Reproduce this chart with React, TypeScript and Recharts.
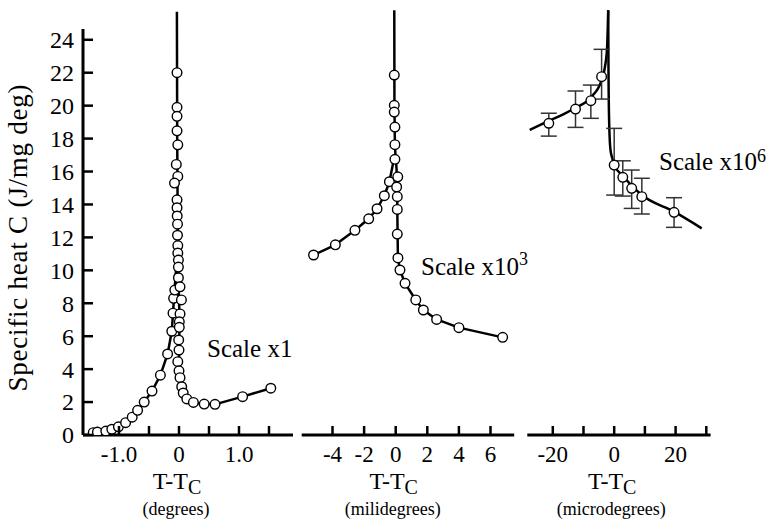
import { ComposedChart, Line, Scatter, XAxis, YAxis, ErrorBar, ReferenceLine } from "recharts";

const FONT = '"Liberation Serif", "DejaVu Serif", "Times New Roman", serif';
const TXT = { fontFamily: FONT };

// shared y scale (specific heat, J/mg deg)
const Y_DOMAIN: [number, number] = [0, 25.93];
const Y_TICKS = [0, 2, 4, 6, 8, 10, 12, 14, 16, 18, 20, 22, 24];
const Y_AXIS_TOP = 24.65;

// ---- panel 1: degrees ----
const degTicks = [-1.0, -0.5, 0, 0.5, 1.0, 1.5];
const degLabeled = [-1.0, 0, 1.0];
const degBelowPts = [
  [-1.43, 0.14], [-1.36, 0.18], [-1.22, 0.24], [-1.12, 0.35], [-1.01, 0.5], [-0.89, 0.75],
  [-0.78, 1.08], [-0.69, 1.5], [-0.58, 2.0], [-0.45, 2.67], [-0.31, 3.63], [-0.19, 4.92],
  [-0.12, 6.3], [-0.1, 7.4], [-0.09, 8.3], [-0.07, 8.8],
];
const degCritPts = [
  [-0.033, 22.0], [-0.033, 19.9], [-0.033, 19.35], [-0.033, 18.47], [-0.02, 17.62], [-0.045, 16.43],
  [-0.02, 15.7], [-0.075, 15.3], [-0.033, 14.28], [-0.033, 13.8], [-0.03, 13.3], [-0.025, 12.8],
  [-0.025, 12.13], [-0.02, 11.5], [-0.02, 11.05], [-0.01, 10.62], [-0.01, 10.2], [-0.01, 9.55],
  [0.017, 9.0], [0.04, 8.2], [0.017, 7.35], [0.005, 6.87], [0.005, 6.54], [-0.005, 5.77],
  [0, 5.16], [-0.02, 4.45], [0, 3.9], [0.017, 3.48], [0.045, 2.93], [0.07, 2.55],
];
const degAbovePts = [[0.13, 2.19], [0.24, 1.98], [0.42, 1.88], [0.6, 1.86], [1.06, 2.33], [1.53, 2.84]];
const degCurveBelow = [
  [-1.43, 0.14], [-1.22, 0.24], [-1.01, 0.5], [-0.78, 1.08], [-0.58, 2.0], [-0.45, 2.67],
  [-0.31, 3.63], [-0.19, 4.92], [-0.12, 6.3], [-0.08, 8.5], [-0.04, 10.5],
];
const degCurveAbove = [
  [-0.035, 25.7], [-0.03, 18], [-0.02, 12], [-0.01, 9.5], [0.01, 7], [0, 5], [0.01, 3.6],
  [0.045, 2.93], [0.07, 2.55], [0.13, 2.19], [0.24, 1.98], [0.42, 1.88], [0.6, 1.86],
  [1.06, 2.33], [1.53, 2.84],
];

// ---- panel 2: millidegrees ----
const milliTicks = [-4, -2, 0, 2, 4, 6];
const milliBelowPts = [
  [-5.2, 10.93], [-3.82, 11.55], [-2.58, 12.43], [-1.71, 13.13], [-1.18, 13.74], [-0.72, 14.53], [-0.4, 15.38],
];
const milliCritPts = [
  [-0.09, 21.86], [-0.09, 20.02], [-0.09, 19.61], [-0.05, 18.7], [-0.05, 17.63], [-0.05, 16.74],
  [0.13, 15.68], [0.06, 15.06], [0.1, 14.47], [0.1, 13.7], [0.1, 12.2], [0.14, 10.75],
];
const milliAbovePts = [
  [0.27, 10.02], [0.59, 9.21], [1.27, 8.2], [1.75, 7.59], [2.59, 7.02], [4.0, 6.52], [6.77, 5.93],
];
const milliCurveBelow = [
  [-5.2, 10.93], [-3.82, 11.55], [-2.58, 12.43], [-1.71, 13.13], [-1.18, 13.74], [-0.72, 14.53],
  [-0.4, 15.38], [-0.1, 16.8],
];
const milliCurveAbove = [
  [-0.09, 25.8], [-0.08, 20], [-0.05, 17.5], [0.05, 16.2], [0.1, 15], [0.1, 13.7], [0.12, 12.2],
  [0.14, 10.75], [0.27, 10.02], [0.59, 9.21], [1.27, 8.2], [1.75, 7.59], [2.59, 7.02],
  [4.0, 6.52], [6.77, 5.93],
];

// ---- panel 3: microdegrees (x, y, error below, error above) ----
const microTicks = [-20, -10, 0, 10, 20, 30];
const microLabeled = [-20, 0, 20];
const microPts = [
  [-21.3, 18.93, 0.78, 0.61], [-12.6, 19.79, 1.11, 1.1], [-7.6, 20.3, 1.07, 0.95],
  [-4.1, 21.76, 1.36, 1.66], [0.0, 16.39, 1.82, 2.23], [2.8, 15.65, 1.14, 1.0],
  [5.7, 14.98, 1.22, 1.11], [9.0, 14.47, 1.05, 1.12], [19.5, 13.52, 0.91, 0.89],
];
const microCurveBelow = [
  [-27.5, 18.52], [-21.3, 19.07], [-16.6, 19.47], [-12.6, 19.87], [-7.6, 20.5], [-4.1, 21.55],
  [-3.0, 22.36], [-2.3, 23.58], [-1.95, 25.8],
];
const microCurveAbove = [
  [-1.95, 25.8], [-1.85, 22], [-1.6, 18.7], [-1.2, 17.3], [-0.6, 16.8], [0, 16.39], [2.8, 15.74],
  [5.7, 15.14], [9.0, 14.57], [19.5, 13.56], [28.5, 12.55],
];

const toPts = (a: number[][]) => a.map(([x, y]) => ({ x, y }));

const xTick = (labeled: number[] | null, fmt: (v: number) => string) => (p: any) => {
  const v = p.payload.value;
  const show = labeled ? labeled.some((l) => Math.abs(l - v) < 1e-9) : true;
  return (
    <g>
      <line x1={p.x} x2={p.x} y1={p.y} y2={p.y - 9} stroke="#000" strokeWidth={2.5} />
      {show && (
        <text x={p.x} y={p.y + 27} textAnchor="middle" style={TXT} fontSize={23} fill="#000">
          {fmt(v)}
        </text>
      )}
    </g>
  );
};

const yTick = (p: any) => (
  <g>
    <line x1={p.x} x2={p.x + 10} y1={p.y} y2={p.y} stroke="#000" strokeWidth={2.5} />
    <text x={p.x - 9} y={p.y} dy="0.35em" textAnchor="end" style={TXT} fontSize={24} fill="#000">
      {p.payload.value}
    </text>
  </g>
);

const xTitle = (zeroFrac: number, unit: string) => (p: any) => {
  const vb = p.viewBox;
  const cx = vb.x + vb.width * zeroFrac;
  return (
    <g>
      <text x={cx - 2} y={vb.y + 54} textAnchor="middle" style={TXT} fontSize={24} fill="#000">
        T-T<tspan fontSize={20} dy={5}>C</tspan>
      </text>
      <text x={cx - 3} y={vb.y + 80} textAnchor="middle" style={TXT} fontSize={18} fill="#000">
        ({unit})
      </text>
    </g>
  );
};

const yTitle = () => (
  <text
    x={27}
    y={238}
    textAnchor="middle"
    transform="rotate(-90, 27, 238)"
    style={TXT}
    fontSize={27}
    textLength={307}
    fill="#000"
  >
    Specific heat C (J/mg deg)
  </text>
);

const circle = (p: any) => (
  <circle cx={p.cx} cy={p.cy} r={4.8} fill="#fff" stroke="#000" strokeWidth={1.4} />
);

function Panel(props: any) {
  const { left, width, plotLeft, plotRight, domain, ticks, labeled, fmt, unit, curves, points, smooth, errors, yAxis } = props;
  const yW = yAxis ? 60 : 0;
  const zeroFrac = (0 - domain[0]) / (domain[1] - domain[0]);
  return (
    <div style={{ position: "absolute", left, top: 0 }}>
      <ComposedChart
        width={width}
        height={523}
        margin={{ top: 8, bottom: 8, left: plotLeft - left - yW, right: left + width - plotRight }}
      >
        <XAxis
          type="number"
          dataKey="x"
          domain={domain}
          allowDataOverflow
          ticks={ticks}
          interval={0}
          tickSize={0}
          tickMargin={0}
          tickLine={false}
          tick={xTick(labeled, fmt)}
          height={80}
          axisLine={{ stroke: "#000", strokeWidth: 3 }}
          label={{ content: xTitle(zeroFrac, unit) }}
        />
        <YAxis
          type="number"
          dataKey="y"
          domain={Y_DOMAIN}
          allowDataOverflow
          hide={!yAxis}
          width={yW}
          ticks={Y_TICKS}
          interval={0}
          tickSize={0}
          tickMargin={0}
          tickLine={false}
          axisLine={false}
          tick={yTick}
          label={yAxis ? { content: yTitle } : undefined}
        />
        {yAxis && (
          <ReferenceLine
            segment={[{ x: domain[0], y: 0 }, { x: domain[0], y: Y_AXIS_TOP }]}
            stroke="#000"
            strokeWidth={3}
            ifOverflow="visible"
          />
        )}
        {curves.map((c: any, i: number) => (
          <Line
            key={i}
            data={c}
            dataKey="y"
            type={smooth ? "monotone" : "linear"}
            stroke="#000"
            strokeWidth={2.5}
            strokeLinejoin="round"
            dot={false}
            activeDot={false}
            isAnimationActive={false}
          />
        ))}
        <Scatter data={points} shape={circle} isAnimationActive={false}>
          {errors && <ErrorBar dataKey="err" direction="y" width={8} stroke="#333" strokeWidth={1.5} />}
        </Scatter>
      </ComposedChart>
    </div>
  );
}

export default function App() {
  const degPoints = toPts([...degBelowPts, ...degCritPts, ...degAbovePts]);
  const milliPoints = toPts([...milliBelowPts, ...milliCritPts, ...milliAbovePts]);
  const microPoints = microPts.map(([x, y, lo, hi]) => ({ x, y, err: [lo, hi] }));
  return (
    <div style={{ position: "absolute", left: 0, top: 0, width: 772, height: 523, background: "#fff", fontFamily: FONT }}>
      <Panel
        left={0}
        width={300}
        plotLeft={83}
        plotRight={293}
        domain={[-1.6, 1.9]}
        ticks={degTicks}
        labeled={degLabeled}
        fmt={(v: number) => (v === 0 ? "0" : v.toFixed(1))}
        unit="degrees"
        curves={[toPts(degCurveBelow), toPts(degCurveAbove)]}
        points={degPoints}
        yAxis
      />
      <Panel
        left={290}
        width={234}
        plotLeft={301.7}
        plotRight={514.2}
        domain={[-5.95, 7.5]}
        ticks={milliTicks}
        labeled={null}
        fmt={(v: number) => String(v)}
        unit="milidegrees"
        curves={[toPts(milliCurveBelow), toPts(milliCurveAbove)]}
        points={milliPoints}
      />
      <Panel
        left={520}
        width={252}
        plotLeft={527.3}
        plotRight={710.6}
        domain={[-28.3, 31.4]}
        ticks={microTicks}
        labeled={microLabeled}
        fmt={(v: number) => String(v)}
        unit="microdegrees"
        curves={[toPts(microCurveBelow), toPts(microCurveAbove)]}
        points={microPoints}
        smooth
        errors
      />
      <svg
        width={772}
        height={523}
        style={{ position: "absolute", left: 0, top: 0, pointerEvents: "none", fontFamily: FONT }}
        fontSize={25}
      >
        <text x={207} y={357} style={TXT}>Scale x1</text>
        <text x={421} y={275} style={TXT}>
          Scale x10<tspan fontSize={18} dy={-10}>3</tspan>
        </text>
        <text x={659} y={170} style={TXT}>
          Scale x10<tspan fontSize={18} dy={-8}>6</tspan>
        </text>
      </svg>
    </div>
  );
}
